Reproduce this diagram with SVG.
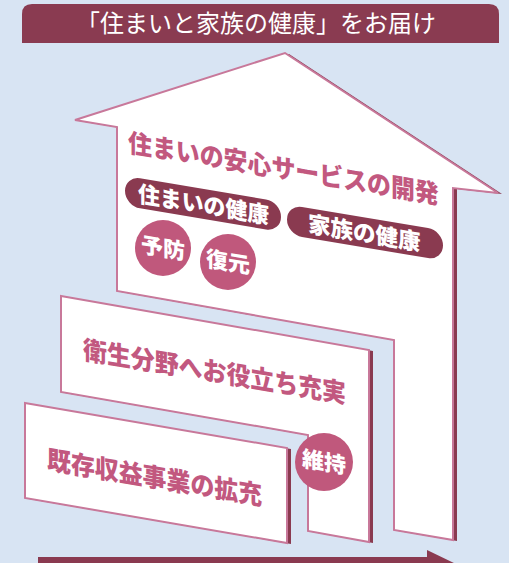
<svg xmlns="http://www.w3.org/2000/svg" xmlns:xlink="http://www.w3.org/1999/xlink" width="509" height="563" viewBox="0 0 509 563">
<style>
.bg{fill:#d8e4f3}
.shadow{fill:#8a3a50}
.panel{fill:#ffffff;stroke:#c8789a;stroke-width:2;stroke-linejoin:miter}
.jp{font-family:"Noto Sans CJK JP","Noto Sans CJK SC",sans-serif}
.big{font-size:26px;font-weight:900;fill:#c2587f}
.pilltxt{font-size:23px;font-weight:900;fill:#ffffff}
.circtxt{font-size:22px;font-weight:900;fill:#ffffff}
.pill{fill:#8a3a50}
.circ{fill:#c0587c}
</style>
<defs>
<path id="houseShape" d="M285,53 L498,193 L453,188 L453,540 L394,530 L394,340 L117,291 L117,127 L75,120 Z"/>
<path id="midShape" d="M61,296 L369,350 L369,542 L308,531 L308,435 L61,392 Z"/>
<path id="lowShape" d="M25,403 L287,448 L287,543 L25,498 Z"/>
</defs>
<rect class="bg" x="0" y="0" width="509" height="563"/>
<g id="title">
<path d="M22,43 V14 Q22,4 32,4 H489 Q499,4 499,14 V43 Z" fill="#8a3b51"/>
<text class="jp" x="76" y="32" font-size="24" fill="#ffffff">「住まいと家族の健康」をお届け</text>
</g>
<g id="house">
<use xlink:href="#houseShape" class="shadow" transform="translate(4,1)"/>
<use xlink:href="#houseShape" class="panel"/>
<text class="jp big" transform="translate(128,152) skewY(9.5) scale(0.92,1)" x="0" y="0">住まいの安心サービスの開発</text>
</g>
<g id="pill-home-health">
<g transform="translate(138,202) skewY(9.5)">
<rect class="pill" x="-13" y="-24" width="156" height="30" rx="15"/>
<text class="jp pilltxt" transform="scale(0.95,1)" x="0" y="0">住まいの健康</text>
</g>
</g>
<g id="pill-family-health">
<g transform="translate(308,232) skewY(9.5)">
<rect class="pill" x="-21" y="-24" width="156" height="30" rx="15"/>
<text class="jp pilltxt" transform="scale(0.98,1)" x="0" y="0">家族の健康</text>
</g>
</g>
<g id="circle-prevent">
<circle class="circ" cx="163" cy="248" r="28"/>
<text class="jp circtxt" transform="translate(163,248) skewY(9.5)" x="0" y="8" text-anchor="middle">予防</text>
</g>
<g id="circle-restore">
<circle class="circ" cx="228" cy="262" r="28"/>
<text class="jp circtxt" transform="translate(228,262) skewY(9.5)" x="0" y="8" text-anchor="middle">復元</text>
</g>
<g id="hygiene">
<use xlink:href="#midShape" class="shadow" transform="translate(4,1)"/>
<use xlink:href="#midShape" class="panel"/>
<text class="jp big" transform="translate(83,359) skewY(9.5) scale(0.92,1)" x="0" y="0">衛生分野へお役立ち充実</text>
</g>
<g id="existing">
<use xlink:href="#lowShape" class="shadow" transform="translate(4,1)"/>
<use xlink:href="#lowShape" class="panel"/>
<text class="jp big" transform="translate(47,469) skewY(9.5) scale(0.92,1)" x="0" y="0">既存収益事業の拡充</text>
</g>
<g id="circle-maintain">
<circle class="circ" cx="324" cy="462" r="29"/>
<text class="jp circtxt" transform="translate(324,462) skewY(9.5)" x="0" y="8" text-anchor="middle">維持</text>
</g>
<g id="connectors">
<path d="M38,557 H427 V550 L456,564 L427,578 V571 H38 Z" fill="#8a3a50"/>
</g>
</svg>
